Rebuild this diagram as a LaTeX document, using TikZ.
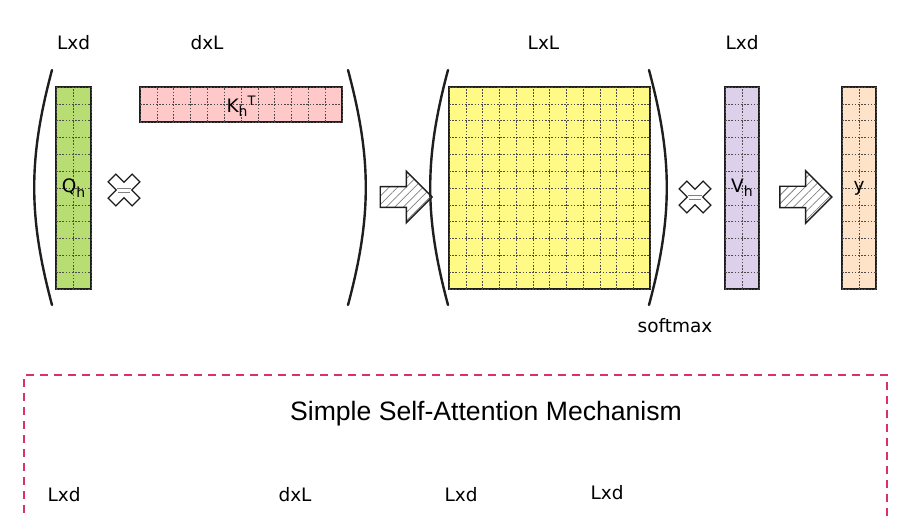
\documentclass[tikz,border=0pt]{standalone}
\usepackage{fontspec}
\setmainfont{Liberation Sans}
\newfontfamily\handfont{DejaVu Sans}
\usepackage{xcolor}
\usetikzlibrary{arrows.meta, positioning, shapes.arrows, patterns.meta}

\definecolor{ink}{HTML}{1E1E1E}
\definecolor{qgreen}{HTML}{B7DD73}
\definecolor{kpink}{HTML}{FFC9C9}
\definecolor{syellow}{HTML}{FFFA86}
\definecolor{vpurple}{HTML}{DCD0EA}
\definecolor{yorange}{HTML}{FFE3C9}
\definecolor{framepink}{HTML}{D9316F}

\newcommand{\lowidx}[1]{\raisebox{-4.5pt}{\fontsize{14}{14}\selectfont #1}}
\newcommand{\highidx}[1]{\raisebox{7pt}{\fontsize{13}{13}\selectfont #1}}

\tikzset{
  times/.pic={
    \draw[ink, line width=1.2pt, fill=white, rotate=45]
      (-5.5,17) -- (5.5,17) -- (5.5,5.5) -- (17,5.5) -- (17,-5.5) -- (5.5,-5.5) --
      (5.5,-17) -- (-5.5,-17) -- (-5.5,-5.5) -- (-17,-5.5) -- (-17,5.5) -- (-5.5,5.5) -- cycle;
    \draw[gray, line width=0.6pt] (-7,2) -- (7,2) (-6,-2.5) -- (6,-2.5);
  }
}

\begin{document}
\begin{tikzpicture}[
    x=1pt, y=1pt,
    mat/.style={rectangle, draw=ink, line width=1.6pt, inner sep=0pt, outer sep=0pt},
    lbl/.style={inner sep=0pt, font=\handfont\fontsize{18.5}{22}\selectfont},
    gridline/.style={draw=black!70, line width=0.5pt, dash pattern=on 1.6pt off 1.6pt},
    paren/.style={draw=ink, line width=2.4pt, line cap=round},
    fat/.style={single arrow, draw=ink, line width=1.4pt, inner sep=10pt,
      minimum height=52pt, minimum width=51pt, single arrow head extend=15.5pt,
      pattern={Lines[angle=45, distance=6pt, line width=0.8pt]}, pattern color=gray},
    frame/.style={draw=framepink, line width=1.8pt, dash pattern=on 8pt off 6pt},
    title/.style={font=\fontsize{26.6}{32}\selectfont}
  ]
    \useasboundingbox (0,0) rectangle (918,517);

    % matrices
    \node[mat, fill=qgreen, minimum width=35pt, minimum height=202pt] (q) at (73.5,329) {};
    \node[mat, fill=kpink, minimum width=202pt, minimum height=35pt] (k) at (241,412.5) {};
    \node[mat, fill=syellow, minimum width=201pt, minimum height=202pt] (s) at (549.5,329) {};
    \node[mat, fill=vpurple, minimum width=34pt, minimum height=202pt] (v) at (742,329) {};
    \node[mat, fill=yorange, minimum width=34pt, minimum height=202pt] (y) at (859,329) {};

    \foreach \m/\w/\h/\nx/\ny in {q/35/202/2/12, k/202/35/12/2, s/201/202/12/12, v/34/202/2/12, y/34/202/2/12} {
      \pgfmathsetmacro\dx{\w/\nx}
      \pgfmathsetmacro\dy{\h/\ny}
      \draw[gridline, shift={(\m.south west)}] (0,0) grid[xstep=\dx, ystep=\dy] (\w,\h);
    }

    \node[lbl] (qtxt) at (q) {Q\lowidx{h}};
    \node[lbl] (ktxt) at ([yshift=-2pt]k.center) {K\lowidx{h}\highidx{T}};
    \node[lbl] (vtxt) at (v) {V\lowidx{h}};
    \node[lbl] (ytxt) at (y) {y};

    % sizes
    \node[lbl, above=37pt of q] (qdim) {Lxd};
    \node[lbl, above=37pt of k.north, xshift=-34pt] (kdim) {dxL};
    \node[lbl, above=37pt of s, xshift=-6pt] (sdim) {LxL};
    \node[lbl, above=37pt of v] (vdim) {Lxd};
    \node[lbl, below=29pt of s.south east, xshift=25pt] (soft) {softmax};

    % brackets
    \draw[paren] (52,447) to[bend right=15] (52,212);
    \draw[paren] (348,447) to[bend left=15] (348,212);
    \draw[paren] (448,447) to[bend right=15] (448,212);
    \draw[paren] (649,447) to[bend left=15] (649,212);

    % operators
    \pic (mul1) at (124,327) {times};
    \pic (mul2) at (695,320) {times};
    \node[fat] (arr1) at (401,320) {};
    \node[fat] (arr2) at (800.5,320) {};

    % lower panel
    \draw[frame] (24,-10) |- (887,142) -- (887,-10);
    \node[title] (ttl) at (486,103) {Simple Self-Attention Mechanism};
    \node[lbl] (d1) at (64,22) {Lxd};
    \node[lbl] (d2) at (295,22) {dxL};
    \node[lbl] (d3) at (461,22) {Lxd};
    \node[lbl] (d4) at (607,24) {Lxd};
  \end{tikzpicture}
\end{document}
